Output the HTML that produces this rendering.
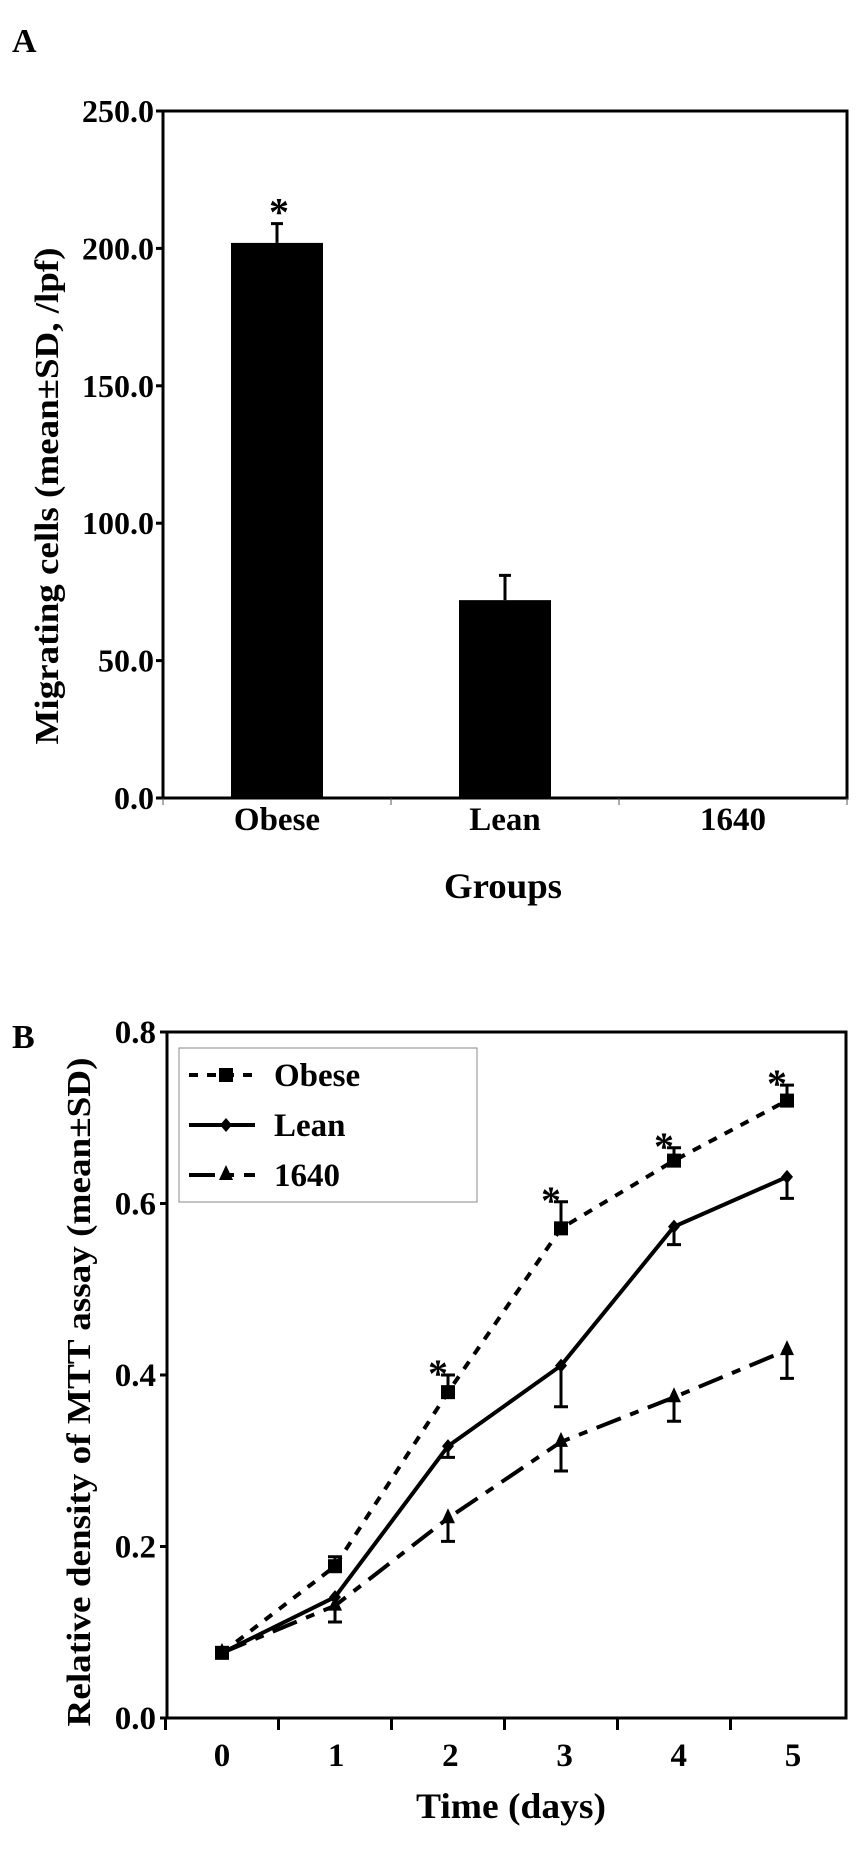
<!DOCTYPE html>
<html><head><meta charset="utf-8"><style>
html,body{margin:0;padding:0;background:#fff;}
svg{display:block;font-family:"Liberation Serif",serif;font-weight:bold;}
</style></head><body>
<svg id="fig" width="862" height="1859" viewBox="0 0 862 1859">
<text x="12" y="52" font-size="34">A</text>
<text x="12" y="1048" font-size="34">B</text>
<g id="chartA"></g>
<g id="chartB"></g>
</svg>
<script>
// ---------- Panel A data ----------
const groupsA = ["Obese", "Lean", "1640"];
const valuesA = [202, 72, 0];
const errorsA = [7, 9, 0];
const starA = [true, false, false];
const ticksA = [0, 50, 100, 150, 200, 250];
const tickLabelsA = ["0.0", "50.0", "100.0", "150.0", "200.0", "250.0"];

// ---------- Panel B data ----------
const days = [0, 1, 2, 3, 4, 5];
const obese = [0.076, 0.177, 0.380, 0.571, 0.650, 0.720];
const obeseErr = [0, 0.011, 0.020, 0.031, 0.015, 0.018];
const lean = [0.076, 0.141, 0.317, 0.411, 0.573, 0.631];
const leanErr = [0, 0, 0.013, 0.048, 0.021, 0.025];
const c1640 = [0.076, 0.131, 0.233, 0.322, 0.374, 0.429];
const c1640Err = [0, 0.019, 0.027, 0.034, 0.028, 0.033];
const obeseStar = [false, false, true, true, true, true];
const ticksB = [0, 0.2, 0.4, 0.6, 0.8];
const tickLabelsB = ["0.0", "0.2", "0.4", "0.6", "0.8"];
const xTickLabelsB = ["0", "1", "2", "3", "4", "5"];

const NS = "http://www.w3.org/2000/svg";
function mk(parent, tag, attrs, text) {
  const e = document.createElementNS(NS, tag);
  for (const k in attrs) e.setAttribute(k, attrs[k]);
  if (text !== undefined) e.textContent = text;
  parent.appendChild(e);
  return e;
}

// ===== Panel A =====
(function () {
  const g = document.getElementById("chartA");
  const L = 163, R = 847, T = 111, B = 798;
  const yA = v => B - (v / 250) * (B - T);
  const band = (R - L) / groupsA.length;
  const xc = i => L + band * (i + 0.5);
  const barW = 92;
  let e;
  e = mk(g, "rect", {x: L, y: T, width: R - L, height: B - T, fill: "none", stroke: "#000", "stroke-width": 3});
  
  
  ticksA.forEach((t, i) => {
    const y = yA(t);
    e = mk(g, "line", {x1: L - 7, x2: L, y1: y, y2: y, stroke: "#000", "stroke-width": 3});
    
    
    e = mk(g, "text", {x: L - 9, y: y + 11, "font-size": 32, "text-anchor": "end"}, tickLabelsA[i]);
    
    
  });
  for (let i = 0; i <= groupsA.length; i++) {
    const x = L + band * i;
    e = mk(g, "line", {x1: x, x2: x, y1: B, y2: B + 7, stroke: "#555", "stroke-width": 1});
    
    
  }
  groupsA.forEach((name, i) => {
    const x = xc(i);
    if (valuesA[i] > 0) {
      e = mk(g, "rect", {x: x - barW / 2, y: yA(valuesA[i]), width: barW, height: B - yA(valuesA[i]), fill: "#000"});
      
      
      const top = yA(valuesA[i] + errorsA[i]);
      e = mk(g, "path", {d: `M${x} ${yA(valuesA[i])}V${top}M${x - 6} ${top}H${x + 6}`, stroke: "#000", "stroke-width": 3, fill: "none"});
      
      
      if (starA[i]) {
        e = mk(g, "text", {x: x + 2, y: top + 2, "font-size": 40, "text-anchor": "middle"}, "*");
        
        
      }
    }
    e = mk(g, "text", {x: x, y: 830, "font-size": 33, "text-anchor": "middle"}, name);
    
    
  });
  e = mk(g, "text", {x: 503, y: 898, "font-size": 36, "text-anchor": "middle", textLength: 118, lengthAdjust: "spacingAndGlyphs"}, "Groups");
  
  
  e = mk(g, "text", {x: 0, y: 0, "font-size": 34, "text-anchor": "middle", textLength: 497, lengthAdjust: "spacingAndGlyphs", transform: "translate(58,496) rotate(-90)"}, "Migrating cells (mean±SD, /lpf)");
  
  
})();

// ===== Panel B =====
(function () {
  const g = document.getElementById("chartB");
  const L = 167, R = 846, T = 1032, B = 1718;
  const yB = v => B - (v / 0.8) * (B - T);
  const step = 113, x0 = 222;
  const xB = d => x0 + d * step;
  let e;
  e = mk(g, "rect", {x: L, y: T, width: R - L, height: B - T, fill: "none", stroke: "#000", "stroke-width": 3});
  
  
  ticksB.forEach((t, i) => {
    const y = yB(t);
    e = mk(g, "line", {x1: L - 7, x2: L, y1: y, y2: y, stroke: "#000", "stroke-width": 3});
    
    
    e = mk(g, "text", {x: L - 11, y: y + 11, "font-size": 33, "text-anchor": "end"}, tickLabelsB[i]);
    
    
  });
  for (let k = 0; k < days.length; k++) {
    const xt = xB(days[k] - 0.5);
    e = mk(g, "line", {x1: xt, x2: xt, y1: B, y2: B + 12, stroke: "#000", "stroke-width": 3});
    
    
    e = mk(g, "text", {x: xB(days[k]) + k * 1.2, y: 1766, "font-size": 33, "text-anchor": "middle"}, xTickLabelsB[k]);
    
    
  }
  const series = [
    {name: "obese", vals: obese, err: obeseErr, dir: -1, dash: "9 9", w: 4, mark: "square"},
    {name: "lean", vals: lean, err: leanErr, dir: 1, dash: "", w: 4, mark: "diamond"},
    {name: "1640", vals: c1640, err: c1640Err, dir: 1, dash: "26 10 9 10", w: 4, mark: "triangle"}
  ];
  function marker(parent, type, x, y, nm) {
    let m;
    if (type === "square") m = mk(parent, "rect", {x: x - 7, y: y - 7, width: 14, height: 14, fill: "#000"});
    else if (type === "diamond") m = mk(parent, "path", {d: `M${x} ${y - 7}L${x + 6} ${y}L${x} ${y + 7}L${x - 6} ${y}Z`, fill: "#000"});
    else m = mk(parent, "path", {d: `M${x} ${y - 10}L${x + 7} ${y + 5}L${x - 7} ${y + 5}Z`, fill: "#000"});
    
    
  }
  series.forEach(s => {
    const pts = days.map((d, i) => xB(d) + "," + yB(s.vals[i])).join(" ");
    e = mk(g, "polyline", {points: pts, fill: "none", stroke: "#000", "stroke-width": s.w, "stroke-dasharray": s.dash});
    
    
    days.forEach((d, i) => {
      const x = xB(d), y = yB(s.vals[i]);
      if (s.err[i] > 0) {
        const ye = yB(s.vals[i] - s.dir * s.err[i]);
        e = mk(g, "path", {d: `M${x} ${y}V${ye}M${x - 7} ${ye}H${x + 7}`, stroke: "#000", "stroke-width": 3, fill: "none"});
        
        
      }
      marker(g, s.mark, x, y, 'marker-' + s.name);
    });
  });
  days.forEach((d, i) => {
    if (obeseStar[i]) {
      e = mk(g, "text", {x: xB(d) - 10, y: yB(obese[i] + obeseErr[i]) + 12, "font-size": 40, "text-anchor": "middle"}, "*");
      
      
    }
  });
  // legend
  const lg = mk(g, "g", {});
  
  
  e = mk(lg, "rect", {x: 179, y: 1048, width: 298, height: 154, fill: "#fff", stroke: "#888", "stroke-width": 1});
  
  
  const legY = [1075, 1125, 1175];
  const legLabels = ["Obese", "Lean", "1640"];
  series.forEach((s, i) => {
    e = mk(lg, "line", {x1: 189, x2: 255, y1: legY[i], y2: legY[i], stroke: "#000", "stroke-width": 4, "stroke-dasharray": s.dash});
    
    
    marker(lg, s.mark, 226, legY[i], 'legend-marker-' + s.name);
    e = mk(lg, "text", {x: 274, y: legY[i] + 11, "font-size": 33}, legLabels[i]);
    
    
  });
  e = mk(g, "text", {x: 511, y: 1818, "font-size": 36, "text-anchor": "middle", textLength: 190, lengthAdjust: "spacingAndGlyphs"}, "Time (days)");
  
  
  e = mk(g, "text", {x: 0, y: 0, "font-size": 34, "text-anchor": "middle", textLength: 669, lengthAdjust: "spacingAndGlyphs", transform: "translate(90,1392) rotate(-90)"}, "Relative density of MTT assay (mean±SD)");
  
  
})();
</script>
</body></html>
